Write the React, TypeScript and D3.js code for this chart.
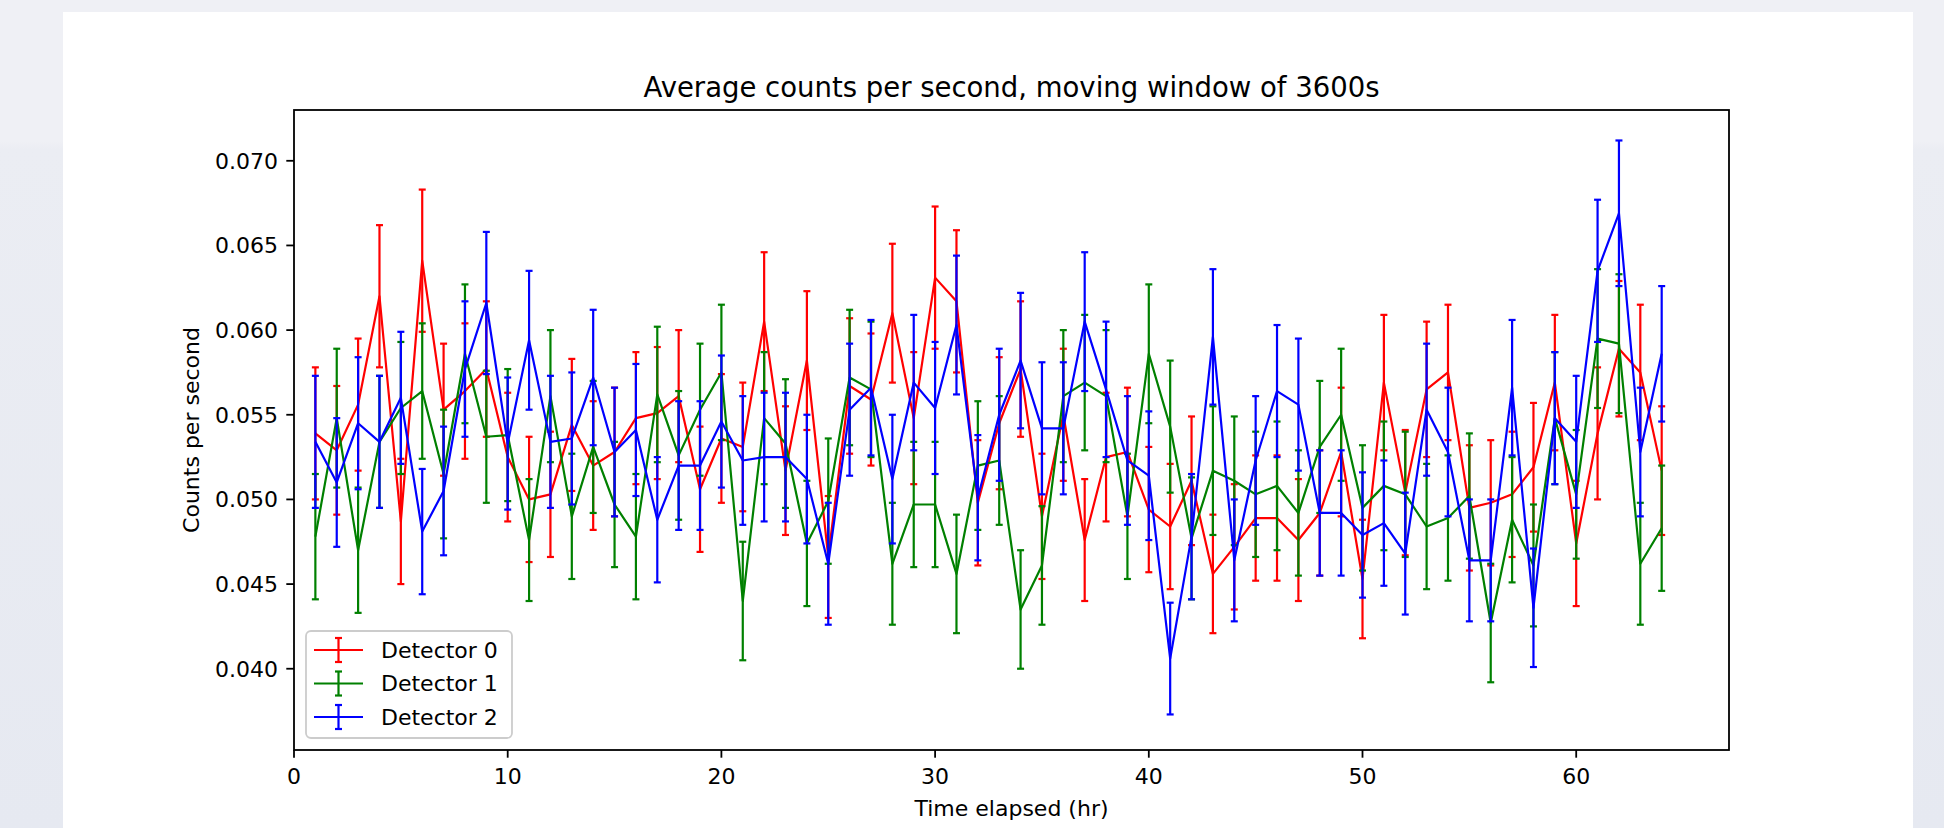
import * as d3 from 'd3'

// hours elapsed (x)
const hours = [
  1, 2, 3, 4, 5, 6, 7, 8, 9, 10, 11, 12, 13, 14, 15, 16, 17, 18, 19, 20, 21, 22,
  23, 24, 25, 26, 27, 28, 29, 30, 31, 32, 33, 34, 35, 36, 37, 38, 39, 40, 41, 42,
  43, 44, 45, 46, 47, 48, 49, 50, 51, 52, 53, 54, 55, 56, 57, 58, 59, 60, 61, 62,
  63, 64,
]

// average counts per second, per detector
const det0 = [
  0.0539, 0.0529, 0.0556, 0.0620, 0.0487, 0.0641, 0.0553, 0.0564, 0.0577, 0.0525,
  0.0500, 0.0503, 0.0544, 0.0520, 0.0528, 0.0548, 0.0551, 0.0561, 0.0506, 0.0536,
  0.0531, 0.0605, 0.0517, 0.0582, 0.0466, 0.0567, 0.0559, 0.0610, 0.0548, 0.0631,
  0.0617, 0.0498, 0.0545, 0.0577, 0.0490, 0.0550, 0.0476, 0.0525, 0.0528, 0.0494,
  0.0484, 0.0511, 0.0456, 0.0472, 0.0489, 0.0489, 0.0476, 0.0492, 0.0528, 0.0453,
  0.0569, 0.0504, 0.0565, 0.0575, 0.0495, 0.0498, 0.0503, 0.0519, 0.0569, 0.0474,
  0.0539, 0.0589, 0.0575, 0.0517,
]
const det1 = [
  0.0478, 0.0548, 0.0470, 0.0534, 0.0554, 0.0564, 0.0515, 0.0586, 0.0537, 0.0538,
  0.0476, 0.0561, 0.0490, 0.0531, 0.0497, 0.0478, 0.0562, 0.0526, 0.0553, 0.0575,
  0.0440, 0.0548, 0.0533, 0.0474, 0.0499, 0.0572, 0.0565, 0.0462, 0.0497, 0.0497,
  0.0456, 0.0520, 0.0523, 0.0435, 0.0461, 0.0561, 0.0569, 0.0561, 0.0490, 0.0586,
  0.0543, 0.0477, 0.0517, 0.0511, 0.0503, 0.0508, 0.0492, 0.0531, 0.0550, 0.0495,
  0.0508, 0.0503, 0.0484, 0.0489, 0.0502, 0.0427, 0.0488, 0.0461, 0.0548, 0.0503,
  0.0595, 0.0592, 0.0462, 0.0483,
]
const det2 = [
  0.0534, 0.0510, 0.0545, 0.0534, 0.0560, 0.0481, 0.0505, 0.0577, 0.0616, 0.0533,
  0.0594, 0.0534, 0.0536, 0.0572, 0.0528, 0.0541, 0.0488, 0.0520, 0.0520, 0.0546,
  0.0523, 0.0525, 0.0525, 0.0512, 0.0462, 0.0553, 0.0566, 0.0512, 0.0569, 0.0554,
  0.0603, 0.0501, 0.0550, 0.0582, 0.0542, 0.0542, 0.0605, 0.0565, 0.0523, 0.0514,
  0.0406, 0.0478, 0.0596, 0.0464, 0.0523, 0.0564, 0.0556, 0.0492, 0.0492, 0.0479,
  0.0486, 0.0468, 0.0553, 0.0528, 0.0464, 0.0464, 0.0566, 0.0436, 0.0548, 0.0534,
  0.0635, 0.0669, 0.0528, 0.0586,
]

// error bar half-lengths
const err0 = [
  0.0039, 0.0038, 0.0039, 0.0042, 0.0037, 0.0042, 0.0039, 0.0040, 0.0040, 0.0038,
  0.0037, 0.0037, 0.0039, 0.0038, 0.0038, 0.0039, 0.0039, 0.0039, 0.0037, 0.0038,
  0.0038, 0.0041, 0.0038, 0.0041, 0.0036, 0.0040, 0.0039, 0.0041, 0.0039, 0.0042,
  0.0042, 0.0037, 0.0039, 0.0040, 0.0037, 0.0039, 0.0036, 0.0038, 0.0038, 0.0037,
  0.0037, 0.0038, 0.0035, 0.0037, 0.0037, 0.0037, 0.0036, 0.0037, 0.0038, 0.0035,
  0.0040, 0.0037, 0.0040, 0.0040, 0.0037, 0.0037, 0.0037, 0.0038, 0.0040, 0.0037,
  0.0039, 0.0040, 0.0040, 0.0038,
]
const err1 = [
  0.0037, 0.0041, 0.0037, 0.0039, 0.0039, 0.0040, 0.0038, 0.0041, 0.0039, 0.0039,
  0.0036, 0.0039, 0.0037, 0.0039, 0.0037, 0.0037, 0.0040, 0.0038, 0.0039, 0.0040,
  0.0035, 0.0039, 0.0038, 0.0037, 0.0037, 0.0040, 0.0040, 0.0036, 0.0037, 0.0037,
  0.0035, 0.0038, 0.0038, 0.0035, 0.0035, 0.0039, 0.0040, 0.0039, 0.0037, 0.0041,
  0.0039, 0.0036, 0.0038, 0.0038, 0.0037, 0.0038, 0.0037, 0.0039, 0.0039, 0.0037,
  0.0038, 0.0037, 0.0037, 0.0037, 0.0037, 0.0035, 0.0037, 0.0036, 0.0039, 0.0038,
  0.0041, 0.0041, 0.0036, 0.0037,
]
const err2 = [
  0.0039, 0.0038, 0.0039, 0.0039, 0.0039, 0.0037, 0.0038, 0.0040, 0.0042, 0.0039,
  0.0041, 0.0039, 0.0039, 0.0040, 0.0038, 0.0039, 0.0037, 0.0038, 0.0038, 0.0039,
  0.0038, 0.0038, 0.0038, 0.0038, 0.0036, 0.0039, 0.0040, 0.0038, 0.0040, 0.0039,
  0.0041, 0.0037, 0.0039, 0.0040, 0.0039, 0.0039, 0.0041, 0.0040, 0.0038, 0.0038,
  0.0033, 0.0037, 0.0040, 0.0036, 0.0038, 0.0039, 0.0039, 0.0037, 0.0037, 0.0037,
  0.0037, 0.0036, 0.0039, 0.0038, 0.0036, 0.0036, 0.0040, 0.0035, 0.0039, 0.0039,
  0.0042, 0.0043, 0.0038, 0.0040,
]

const names = ['Detector 0', 'Detector 1', 'Detector 2']
const colors = ['#ff0000', '#008000', '#0000ff']
const xTicks = [0, 10, 20, 30, 40, 50, 60]
const yTicks = [0.04, 0.045, 0.05, 0.055, 0.06, 0.065, 0.07]

const W = 1944
const H = 828
const FONT = '"DejaVu Sans", sans-serif'

export default function App() {
  const plot = { left: 294, right: 1729, top: 110, bottom: 750 }
  const x = d3.scaleLinear().domain([0, 67.15]).range([plot.left, plot.right])
  const y = d3.scaleLinear().domain([0.0352, 0.073]).range([plot.bottom, plot.top])

  const series = [
    { name: names[0], color: colors[0], values: det0, errors: err0 },
    { name: names[1], color: colors[1], values: det1, errors: err1 },
    { name: names[2], color: colors[2], values: det2, errors: err2 },
  ]

  const line = d3
    .line<number>()
    .x((_, i) => x(hours[i]))
    .y((d) => y(d))

  const cap = 3.5
  const lw = 2.2

  return (
    <div style={{ position: 'fixed', left: 0, top: 0 }}>
      <svg width={W} height={H} style={{ display: 'block' }}>
        <defs>
          <linearGradient id="bg" x1="0" y1="0" x2="0" y2="1">
            <stop offset="0" stopColor="#eff0f5" />
            <stop offset="0.17" stopColor="#eff0f5" />
            <stop offset="0.18" stopColor="#ebedf3" />
            <stop offset="1" stopColor="#e6e9f1" />
          </linearGradient>
          <clipPath id="plotclip">
            <rect x={plot.left} y={plot.top} width={plot.right - plot.left} height={plot.bottom - plot.top} />
          </clipPath>
        </defs>
        <rect x={0} y={0} width={W} height={H} fill="url(#bg)" />
        <rect x={0} y={0} width={W} height={12} fill="#eff0f5" />
        <rect x={63} y={12} width={1850} height={830} fill="#ffffff" />

        {/* title */}
        <text
          x={(plot.left + plot.right) / 2}
          y={97}
          textAnchor="middle"
          fontFamily={FONT}
          fontSize={27.5}
          fill="#000"
        >
          Average counts per second, moving window of 3600s
        </text>

        {/* series */}
        <g clipPath="url(#plotclip)">
          {series.map((s) => (
            <g key={s.name}>
              {s.values.map((v, i) => {
                const cx = x(hours[i])
                const y0 = y(v - s.errors[i])
                const y1 = y(v + s.errors[i])
                return (
                  <g key={i} stroke={s.color} strokeWidth={lw}>
                    <line x1={cx} x2={cx} y1={y0} y2={y1} />
                    <line x1={cx - cap} x2={cx + cap} y1={y0} y2={y0} />
                    <line x1={cx - cap} x2={cx + cap} y1={y1} y2={y1} />
                  </g>
                )
              })}
              <path d={line(s.values) ?? ''} fill="none" stroke={s.color} strokeWidth={lw} strokeLinejoin="round" />
            </g>
          ))}
        </g>

        {/* axes frame */}
        <rect
          x={plot.left}
          y={plot.top}
          width={plot.right - plot.left}
          height={plot.bottom - plot.top}
          fill="none"
          stroke="#000"
          strokeWidth={1.8}
        />

        {/* x ticks */}
        {xTicks.map((t) => (
          <g key={t}>
            <line x1={x(t)} x2={x(t)} y1={plot.bottom} y2={plot.bottom + 7.7} stroke="#000" strokeWidth={1.8} />
            <text x={x(t)} y={plot.bottom + 34} textAnchor="middle" fontFamily={FONT} fontSize={22} fill="#000">
              {t}
            </text>
          </g>
        ))}
        <text
          x={(plot.left + plot.right) / 2}
          y={816}
          textAnchor="middle"
          fontFamily={FONT}
          fontSize={22}
          fill="#000"
        >
          Time elapsed (hr)
        </text>

        {/* y ticks */}
        {yTicks.map((t) => (
          <g key={t}>
            <line x1={plot.left - 7.7} x2={plot.left} y1={y(t)} y2={y(t)} stroke="#000" strokeWidth={1.8} />
            <text
              x={plot.left - 16}
              y={y(t)}
              dy="0.36em"
              textAnchor="end"
              fontFamily={FONT}
              fontSize={22}
              fill="#000"
            >
              {t.toFixed(3)}
            </text>
          </g>
        ))}
        <text
          transform={`translate(199, ${(plot.top + plot.bottom) / 2}) rotate(-90)`}
          textAnchor="middle"
          fontFamily={FONT}
          fontSize={22}
          fill="#000"
        >
          Counts per second
        </text>

        {/* legend */}
        <rect x={306} y={631} width={206} height={107} rx={5} fill="#ffffff" fillOpacity={0.8} stroke="#cccccc" strokeWidth={1.8} />
        {series.map((s, i) => {
          const ry = 650 + i * 33.5
          return (
            <g key={s.name}>
              <g stroke={s.color} strokeWidth={lw}>
                <line x1={314} x2={363} y1={ry} y2={ry} />
                <line x1={338.5} x2={338.5} y1={ry - 12} y2={ry + 12} />
                <line x1={338.5 - cap} x2={338.5 + cap} y1={ry - 12} y2={ry - 12} />
                <line x1={338.5 - cap} x2={338.5 + cap} y1={ry + 12} y2={ry + 12} />
              </g>
              <text x={381} y={ry} dy="0.36em" fontFamily={FONT} fontSize={22} fill="#000">
                {s.name}
              </text>
            </g>
          )
        })}
      </svg>
    </div>
  )
}
